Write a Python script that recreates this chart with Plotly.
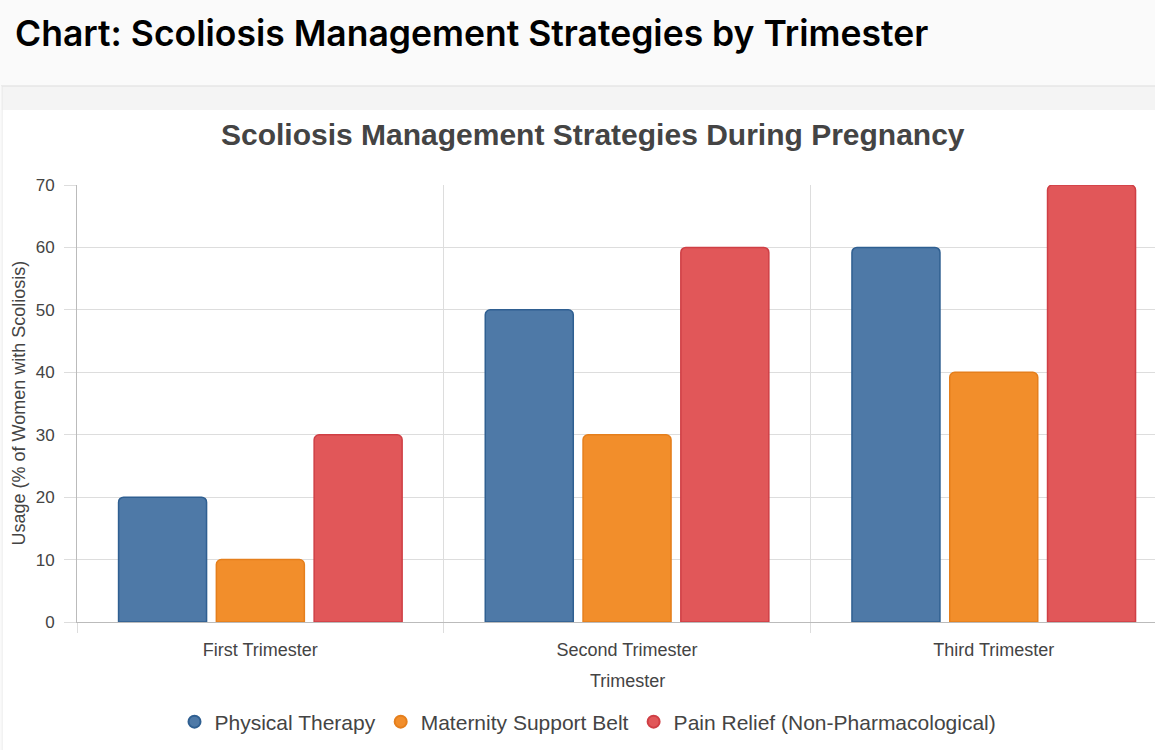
import plotly.graph_objects as go

categories = ["First Trimester", "Second Trimester", "Third Trimester"]
series_names = ["Physical Therapy", "Maternity Support Belt", "Pain Relief (Non-Pharmacological)"]
physical_therapy = [20, 50, 60]
maternity_belt = [10, 30, 40]
pain_relief = [30, 60, 70]
y_ticks = [0, 10, 20, 30, 40, 50, 60, 70]

fills = ["#4e79a7", "#f28e2b", "#e15759"]
borders = ["#2f5f91", "#e57f1c", "#cf3f45"]

W, H = 1155, 750
L, R, T, B = 77, 1155, 185, 622
pw, ph = R - L, B - T

def px(x):
    return (x - L) / pw

def py(y):
    return (B - y) / ph

fig = go.Figure()
for name, vals, f, b in zip(series_names, [physical_therapy, maternity_belt, pain_relief], fills, borders):
    fig.add_trace(go.Bar(
        x=categories, y=vals, name=name, showlegend=False,
        marker=dict(color=f, line=dict(color=b, width=1.5), cornerradius=5),
    ))
for name, f, b in zip(series_names, fills, borders):
    fig.add_trace(go.Scatter(
        x=[None], y=[None], mode="markers", name=name,
        marker=dict(symbol="circle", size=17, color=f, line=dict(color=b, width=1.5)),
    ))

cat_px = 366.7
x_max = -0.5 + pw / cat_px

shapes = [
    dict(type="rect", xref="paper", yref="paper", x0=px(-5), x1=px(W + 5), y0=py(0 - 5), y1=py(86),
         fillcolor="#fafafa", line=dict(width=0), layer="below"),
    dict(type="rect", xref="paper", yref="paper", x0=px(1), x1=px(W + 5), y0=py(86), y1=py(110),
         fillcolor="#f4f4f4", line=dict(width=0), layer="below"),
    dict(type="line", xref="paper", yref="paper", x0=px(1), x1=px(W + 5), y0=py(86), y1=py(86),
         line=dict(color="#dddddd", width=1), layer="below"),
    dict(type="line", xref="paper", yref="paper", x0=px(2), x1=px(2), y0=py(86), y1=py(H + 5),
         line=dict(color="#e6e6e6", width=1), layer="below"),
    dict(type="rect", xref="paper", yref="paper", x0=px(-5), x1=px(1.5), y0=py(86), y1=py(H + 5),
         fillcolor="#fafafa", line=dict(width=0), layer="below"),
]

annotations = [
    dict(text="Chart: Scoliosis Management Strategies by Trimester", xref="paper", yref="paper",
         x=px(13), y=py(33), xanchor="left", yanchor="middle", showarrow=False,
         font=dict(family="Inter, Roboto, sans-serif", size=35.5, weight=600, color="#000000")),
    dict(text="<b>Scoliosis Management Strategies During Pregnancy</b>", xref="paper", yref="paper",
         x=px(593), y=py(135), xanchor="center", yanchor="middle", showarrow=False,
         font=dict(family="Liberation Sans, Arial, sans-serif", size=30, color="#444444")),
    dict(text="Trimester", xref="paper", yref="paper",
         x=px(627), y=py(681), xanchor="center", yanchor="middle", showarrow=False,
         font=dict(family="Liberation Sans, Arial, sans-serif", size=18, color="#444444")),
    dict(text="Usage (% of Women with Scoliosis)", xref="paper", yref="paper", textangle=-90,
         x=px(18), y=py(403.5), xanchor="center", yanchor="middle", showarrow=False,
         font=dict(family="Liberation Sans, Arial, sans-serif", size=18, color="#444444")),
]

fig.update_layout(
    width=W, height=H,
    margin=dict(l=L, r=W - R, t=T, b=H - B, pad=0),
    paper_bgcolor="#ffffff", plot_bgcolor="#ffffff",
    font=dict(family="Liberation Sans, Arial, sans-serif", size=18, color="#444444"),
    barmode="group", bargap=0.2, bargroupgap=0.1,
    shapes=shapes, annotations=annotations,
    legend=dict(orientation="h", x=px(588), y=py(722), xanchor="center", yanchor="middle",
                font=dict(size=21, color="#444444"), itemsizing="constant", bgcolor="rgba(0,0,0,0)"),
    xaxis=dict(
        categoryorder="array", categoryarray=categories,
        range=[-0.5, x_max], tickson="boundaries", showgrid=True, gridcolor="#dddddd", gridwidth=1,
        ticks="outside", ticklen=10, tickcolor="#dddddd", showline=True, linecolor="#bbbbbb",
        tickfont=dict(size=18, color="#444444"), ticklabelstandoff=11,
        zeroline=False,
    ),
    yaxis=dict(
        range=[0, 70], tickvals=y_ticks, showgrid=True, gridcolor="#dddddd", gridwidth=1,
        ticks="outside", ticklen=12, tickcolor="#dddddd", showline=True, linecolor="#bbbbbb",
        tickfont=dict(size=17, color="#444444"), ticklabelstandoff=6,
        zeroline=True, zerolinecolor="#bbbbbb", zerolinewidth=1,
    ),
)

fig.write_html("out.html", config={"displayModeBar": False},
               post_script="document.body.style.margin='0';document.body.style.overflow='hidden';")
